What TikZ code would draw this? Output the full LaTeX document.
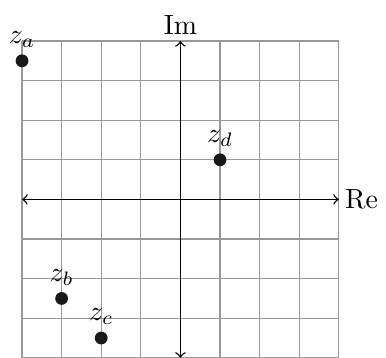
\documentclass[tikz,border=0pt]{standalone}
\begin{document}
\begin{tikzpicture}[x=0.5cm,y=0.5cm,
  gridline/.style={gray!80,line width=0.4pt},
  axis/.style={<->,line width=0.5pt},
  pt/.style={circle,fill=black!90,inner sep=0pt,minimum size=4.6pt},
  lab/.style={inner sep=1pt,anchor=south}]
\useasboundingbox (-4.556,-3.98) rectangle (5.19,5.035);
\draw[gridline,step=0.5cm] (-4,-4) grid (4,4);
\coordinate (xl) at (-4,0);
\coordinate (xr) at (4,0);
\coordinate (yb) at (0,-4);
\coordinate (yt) at (0,4);
\draw[axis] (xl) -- (xr) node[right,inner sep=2pt] (re) {Re};
\draw[axis] (yb) -- (yt) node[above,inner sep=2pt] (im) {Im};
\node[pt] (za) at (-4,3.5) {};
\node[pt] (zb) at (-3,-2.5) {};
\node[pt] (zc) at (-2,-3.5) {};
\node[pt] (zd) at (1,1) {};
\node[lab] (la) at ([yshift=1pt]za.north) {$z_a$};
\node[lab] (lb) at ([yshift=1pt]zb.north) {$z_b$};
\node[lab] (lc) at ([yshift=1pt]zc.north) {$z_c$};
\node[lab] (ld) at ([yshift=1pt]zd.north) {$z_d$};
\end{tikzpicture}
\end{document}
